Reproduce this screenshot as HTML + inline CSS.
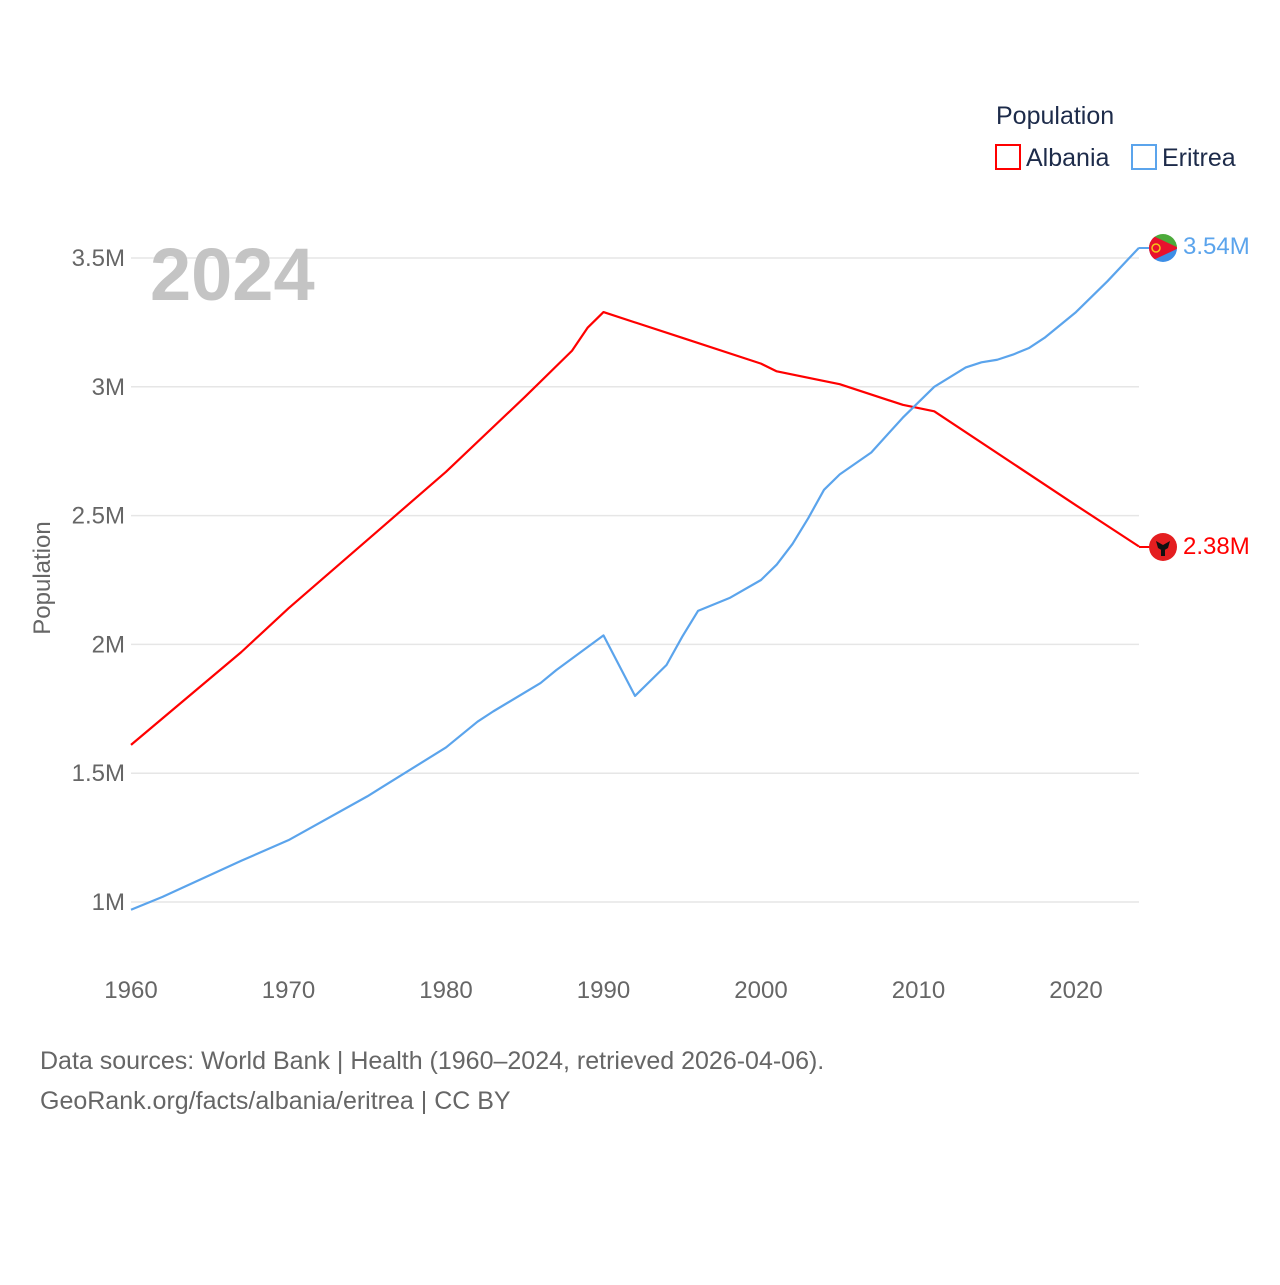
<!DOCTYPE html>
<html><head><meta charset="utf-8"><style>
body{margin:0;background:#fff;font-family:"Liberation Sans",sans-serif}
svg text{font-family:"Liberation Sans",sans-serif}
</style></head><body>
<svg id="chart" width="1280" height="1280" viewBox="0 0 1280 1280">
<g id="grid"></g>
<g id="yticks"></g>
<g id="xticks"></g>
<text x="150" y="300" font-size="74" font-weight="bold" fill="#c4c4c4">2024</text>
<text transform="translate(50,578) rotate(-90)" text-anchor="middle" font-size="24" fill="#666">Population</text>
<g id="series"></g>
<g>
<text x="996" y="124" font-size="25" fill="#1d2b4a">Population</text>
<g><rect x="996" y="145" width="24" height="24" fill="none" stroke="#ff0000" stroke-width="2"/><text x="1026" y="166" font-size="25" fill="#1d2b4a">Albania</text></g>
<g><rect x="1132" y="145" width="24" height="24" fill="none" stroke="#5ba4ec" stroke-width="2"/><text x="1162" y="166" font-size="25" fill="#1d2b4a">Eritrea</text></g>
</g>
<line x1="1139" y1="248" x2="1150" y2="248" stroke="#5ba4ec" stroke-width="2"/>
<line x1="1139" y1="547" x2="1150" y2="547" stroke="#ff0000" stroke-width="2"/>
<g>
<clipPath id="ce"><circle cx="1163" cy="248" r="14"/></clipPath>
<g clip-path="url(#ce)"><rect x="1149" y="234" width="28" height="14" fill="#4caa3b"/><rect x="1149" y="248" width="28" height="14" fill="#3d8ee6"/><polygon points="1149,234 1179,248 1149,262" fill="#e8112d"/><circle cx="1156" cy="248" r="4" fill="none" stroke="#f5c518" stroke-width="1.5"/></g>
</g>
<g>
<circle cx="1163" cy="547" r="14" fill="#e41e20"/><path d="M1156 541 l7 4 l7 -4 l-2 7 l-5 3 l-5 -3z M1161 550 h4 v6 h-4z" fill="#111"/>
</g>
<text x="1183" y="254" font-size="24" fill="#5ba4ec">3.54M</text>
<text x="1183" y="554" font-size="24" fill="#ff0000">2.38M</text>
<text x="40" y="1069" font-size="25" fill="#666">Data sources: World Bank | Health (1960–2024, retrieved 2026-04-06).</text>
<text x="40" y="1109" font-size="25" fill="#666">GeoRank.org/facts/albania/eritrea | CC BY</text>
</svg>
<script>
const yTicks=[1e6,1.5e6,2e6,2.5e6,3e6,3.5e6];
const yTickLabels=["1M","1.5M","2M","2.5M","3M","3.5M"];
const xTicks=[1960,1970,1980,1990,2000,2010,2020];
const albYears=[1960,1967,1970,1980,1985,1988,1989,1990,1995,2000,2001,2005,2009,2011,2020,2024];
const albValues=[1.61,1.97,2.14,2.67,2.96,3.14,3.23,3.29,3.19,3.09,3.06,3.01,2.93,2.905,2.54,2.38];
const eriYears=[1960,1962,1967,1970,1975,1980,1982,1983,1986,1987,1990,1992,1994,1995,1996,1998,2000,2001,2002,2003,2004,2005,2007,2009,2011,2013,2014,2015,2016,2017,2018,2020,2022,2024];
const eriValues=[0.97,1.02,1.16,1.24,1.41,1.60,1.70,1.74,1.85,1.90,2.035,1.80,1.92,2.03,2.13,2.18,2.25,2.31,2.39,2.49,2.60,2.66,2.745,2.88,3.00,3.075,3.095,3.105,3.125,3.15,3.19,3.29,3.41,3.54];
const NS="http://www.w3.org/2000/svg";
const xS=y=>131+(y-1960)*15.75;
const yS=v=>902-(v-1e6)/5e5*128.8;
function mk(t,a,p){const e=document.createElementNS(NS,t);for(const k in a)e.setAttribute(k,a[k]);p.appendChild(e);return e;}
const grid=document.getElementById('grid'),yt=document.getElementById('yticks'),xt=document.getElementById('xticks'),ser=document.getElementById('series');
yTicks.forEach((v,i)=>{
 const l=mk('line',{x1:131,x2:1139,y1:yS(v),y2:yS(v),stroke:'#e6e6e6','stroke-width':1.5},grid);
 
 
 const t=mk('text',{x:125,y:yS(v)+8,'text-anchor':'end','font-size':24,fill:'#666'},yt);t.textContent=yTickLabels[i];
 
 
});
xTicks.forEach(y=>{
 const t=mk('text',{x:xS(y),y:998,'text-anchor':'middle','font-size':24,fill:'#666'},xt);t.textContent=y;
 
 
});
function line(ys,vs,c,n){
 const p=mk('polyline',{points:ys.map((y,i)=>xS(y)+','+yS(vs[i]*1e6)).join(' '),fill:'none',stroke:c,'stroke-width':2.2,'stroke-linejoin':'round'},ser);
 
 
}
line(albYears,albValues,'#ff0000','albania-line');
line(eriYears,eriValues,'#5ba4ec','eritrea-line');
</script>
</body></html>
